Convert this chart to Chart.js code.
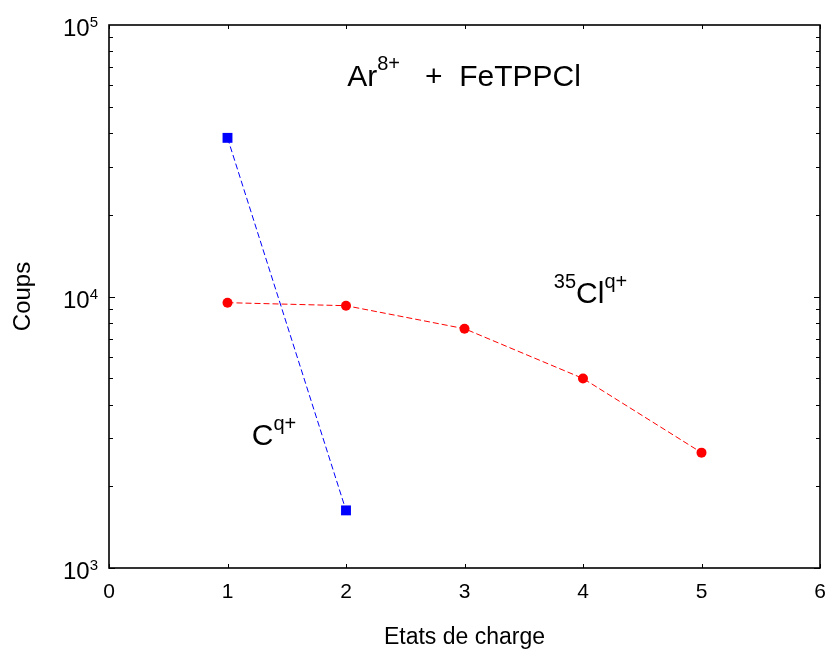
<!DOCTYPE html>
<html>
<head>
<meta charset="utf-8">
<script src="https://cdn.jsdelivr.net/npm/chart.js@4"></script>
<style>
  html, body { margin: 0; padding: 0; background: #fff; }
  #wrap { width: 827px; height: 652px; }
</style>
</head>
<body>
<div id="wrap"><canvas id="chart" width="827" height="652"></canvas></div>
<script>
// Données
const chargeC = [1, 2];
const coupsC = [38400, 1630];
const chargeCl = [1, 2, 3, 4, 5];
const coupsCl = [9490, 9250, 7610, 4990, 2660];
const xTicks = [0, 1, 2, 3, 4, 5, 6];
const yDecades = [3, 4, 5];

const FONT = '"Liberation Sans", Arial, sans-serif';

// texte avec exposants : [texte, exposant?]
function drawRich(ctx, parts, x, y, size, supSize, raise) {
    let cx = x;
    parts.forEach(function(p) {
        ctx.font = (p[1] ? supSize : size) + 'px ' + FONT;
        ctx.fillText(p[0], cx, p[1] ? y - raise : y);
        cx += ctx.measureText(p[0]).width;
    });
    return cx - x;
}

function richWidth(ctx, parts, size, supSize) {
    let w = 0;
    parts.forEach(function(p) {
        ctx.font = (p[1] ? supSize : size) + 'px ' + FONT;
        w += ctx.measureText(p[0]).width;
    });
    return w;
}

const boxPlugin = {
    id: 'boxPlugin',
    afterDraw: function(chart) {
        const ctx = chart.ctx;
        const a = chart.chartArea;
        const xs = chart.scales.x;
        const ys = chart.scales.y;
        ctx.save();
        ctx.strokeStyle = '#000';
        ctx.lineWidth = 1.6;
        ctx.strokeRect(a.left, a.top, a.right - a.left, a.bottom - a.top);

        // graduations intérieures
        ctx.lineWidth = 1;
        ctx.beginPath();
        xTicks.forEach(function(v) {
            const px = Math.round(xs.getPixelForValue(v)) + 0.5;
            ctx.moveTo(px, a.bottom); ctx.lineTo(px, a.bottom - 4);
            ctx.moveTo(px, a.top); ctx.lineTo(px, a.top + 4);
        });
        for (let d = yDecades[0]; d < yDecades[yDecades.length - 1]; d++) {
            for (let m = 1; m <= 9; m++) {
                const py = Math.round(ys.getPixelForValue(m * Math.pow(10, d))) + 0.5;
                const len = m === 1 ? 6 : 4;
                ctx.moveTo(a.left, py); ctx.lineTo(a.left + len, py);
                ctx.moveTo(a.right, py); ctx.lineTo(a.right - len, py);
            }
        }
        ctx.stroke();

        // étiquettes de l'axe y : 10^n
        ctx.fillStyle = '#000';
        ctx.textBaseline = 'alphabetic';
        yDecades.forEach(function(d) {
            const py = ys.getPixelForValue(Math.pow(10, d));
            const parts = [['10', false], [String(d), true]];
            const w = richWidth(ctx, parts, 24, 15);
            drawRich(ctx, parts, a.left - 11 - w, py + 11, 24, 15, 9);
        });

        // annotations
        const t1 = [['Ar', false], ['8+', true], ['   +  FeTPPCl', false]];
        drawRich(ctx, t1, xs.getPixelForValue(2.01), ys.getPixelForValue(59700), 30, 20, 16);
        const t2 = [['35', true], ['Cl', false], ['q+', true]];
        drawRich(ctx, t2, xs.getPixelForValue(3.754), ys.getPixelForValue(9490), 30, 20, 15);
        const t3 = [['C', false], ['q+', true]];
        drawRich(ctx, t3, xs.getPixelForValue(1.205), ys.getPixelForValue(2850), 30, 20, 15);
        ctx.restore();
    }
};

const ctx = document.getElementById('chart').getContext('2d');
new Chart(ctx, {
    type: 'scatter',
    data: {
        datasets: [{
            label: 'C',
            data: chargeC.map(function(x, i) { return { x: x, y: coupsC[i] }; }),
            showLine: true,
            borderColor: '#0000ff',
            backgroundColor: '#0000ff',
            borderWidth: 1,
            borderDash: [6, 3],
            pointStyle: 'rect',
            pointRadius: 7,
            pointBorderWidth: 0
        }, {
            label: 'Cl',
            data: chargeCl.map(function(x, i) { return { x: x, y: coupsCl[i] }; }),
            showLine: true,
            borderColor: '#ff0000',
            backgroundColor: '#ff0000',
            borderWidth: 1,
            borderDash: [6, 3],
            pointStyle: 'circle',
            pointRadius: 5,
            pointBorderWidth: 0
        }]
    },
    options: {
        responsive: false,
        animation: false,
        layout: { padding: { top: 25, right: 5, left: 0, bottom: 0 } },
        plugins: {
            legend: { display: false },
            tooltip: { enabled: false }
        },
        scales: {
            x: {
                type: 'linear',
                min: 0,
                max: 6,
                ticks: {
                    stepSize: 1,
                    color: '#000',
                    font: { family: FONT, size: 21 },
                    padding: 4
                },
                grid: { display: false },
                border: { display: false },
                title: {
                    display: true,
                    text: 'Etats de charge',
                    color: '#000',
                    font: { family: FONT, size: 23 },
                    padding: { top: 10, bottom: 1 }
                },
                afterFit: function(scale) {
                    scale.height = 84;
                    scale.paddingRight = 0;
                }
            },
            y: {
                type: 'logarithmic',
                min: 1000,
                max: 100000,
                ticks: {
                    callback: function() { return ''; }
                },
                grid: { display: false },
                border: { display: false },
                title: {
                    display: true,
                    text: 'Coups',
                    color: '#000',
                    font: { family: FONT, size: 24 },
                    padding: { top: 9, bottom: 0 }
                },
                afterFit: function(scale) { scale.width = 109; }
            }
        }
    },
    plugins: [boxPlugin]
});
</script>
</body>
</html>
